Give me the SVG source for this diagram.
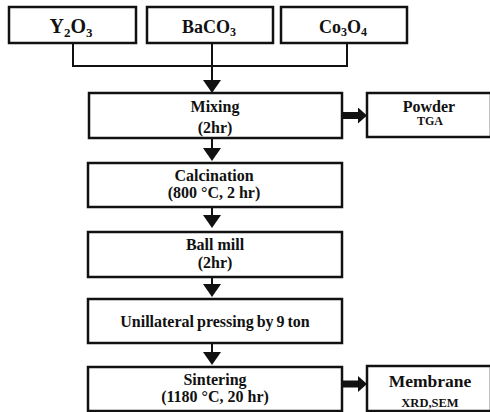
<svg xmlns="http://www.w3.org/2000/svg" width="490" height="412" viewBox="0 0 490 412">
<style>
  .box { fill: #fff; stroke: #111; stroke-width: 2.5; }
  .t { font-family: "Liberation Serif", "Times New Roman", serif; font-weight: bold; fill: #111; text-anchor: middle; }
  .f16 { font-size: 16px; }
  .f18 { font-size: 18px; }
  .f20 { font-size: 20px; }
  .sub { font-size: 13px; }
  .sub2 { font-size: 12px; }
  .line { stroke: #111; stroke-width: 2; fill: none; }
  .thick { stroke: #111; stroke-width: 7; fill: none; }
</style>
<defs>
  <marker id="tri" viewBox="0 0 13 18" refX="0" refY="9" markerWidth="13" markerHeight="18" markerUnits="userSpaceOnUse" orient="auto">
    <path d="M0,0 L13,9 L0,18 Z" fill="#111"/>
  </marker>
  <marker id="big" viewBox="0 0 9 16" refX="0" refY="8" markerWidth="9" markerHeight="16" markerUnits="userSpaceOnUse" orient="auto">
    <path d="M0,0 L9,8 L0,16 Z" fill="#111"/>
  </marker>
</defs>

<g id="connectors">
  <path class="line" d="M73,43 V66 H347 V43"/>
  <line class="line" x1="212" y1="43" x2="212" y2="80" marker-end="url(#tri)"/>
  <line class="line" x1="212" y1="138" x2="212" y2="148" marker-end="url(#tri)"/>
  <line class="line" x1="212" y1="207" x2="212" y2="215" marker-end="url(#tri)"/>
  <line class="line" x1="212" y1="277" x2="212" y2="284" marker-end="url(#tri)"/>
  <line class="line" x1="212" y1="343" x2="212" y2="352" marker-end="url(#tri)"/>
  <line class="thick" x1="343" y1="115.5" x2="358" y2="115.5" marker-end="url(#big)"/>
  <line class="thick" x1="343" y1="384" x2="358" y2="384" marker-end="url(#big)"/>
</g>

<g id="y2o3">
  <rect class="box" x="9" y="7" width="127" height="36"/>
  <text class="t f20" x="71" y="33">Y<tspan class="sub" dy="4">2</tspan><tspan dy="-4">O</tspan><tspan class="sub" dy="4">3</tspan></text>
</g>
<g id="baco3">
  <rect class="box" x="147" y="7" width="126" height="36"/>
  <text class="t f18" x="209" y="33">BaCO<tspan class="sub2" dy="3">3</tspan></text>
</g>
<g id="co3o4">
  <rect class="box" x="281" y="7" width="126" height="36"/>
  <text class="t f18" x="343" y="33">Co<tspan class="sub2" dy="3">3</tspan><tspan dy="-3">O</tspan><tspan class="sub2" dy="3">4</tspan></text>
</g>

<g id="mixing">
  <rect class="box" x="89" y="93" width="253" height="45"/>
  <text class="t f16" x="215" y="112">Mixing</text>
  <text class="t f16" x="215" y="133">(2hr)</text>
</g>
<g id="powder">
  <rect class="box" x="367" y="93" width="124" height="44"/>
  <text class="t f16" x="429" y="112">Powder</text>
  <text class="t" style="font-size:12px" x="430" y="125">TGA</text>
</g>
<g id="calcination">
  <rect class="box" x="88" y="163" width="254" height="44"/>
  <text class="t f16" x="214" y="181">Calcination</text>
  <text class="t f16" x="214" y="198">(800 °C, 2 hr)</text>
</g>
<g id="ballmill">
  <rect class="box" x="88" y="232" width="254" height="45"/>
  <text class="t f16" x="215" y="250">Ball mill</text>
  <text class="t f16" x="215" y="268">(2hr)</text>
</g>
<g id="pressing">
  <rect class="box" x="88" y="299" width="254" height="44"/>
  <text class="t f16" x="215" y="327" word-spacing="-1">Unillateral pressing by 9 ton</text>
</g>
<g id="sintering">
  <rect class="box" x="88" y="367" width="254" height="44"/>
  <text class="t f16" x="215" y="385">Sintering</text>
  <text class="t f16" x="215" y="402">(1180 °C, 20 hr)</text>
</g>
<g id="membrane">
  <rect class="box" x="367" y="366" width="124" height="45"/>
  <text class="t" style="font-size:17.5px" x="430" y="387">Membrane</text>
  <text class="t" style="font-size:12.5px" x="430" y="407">XRD,SEM</text>
</g>
</svg>
